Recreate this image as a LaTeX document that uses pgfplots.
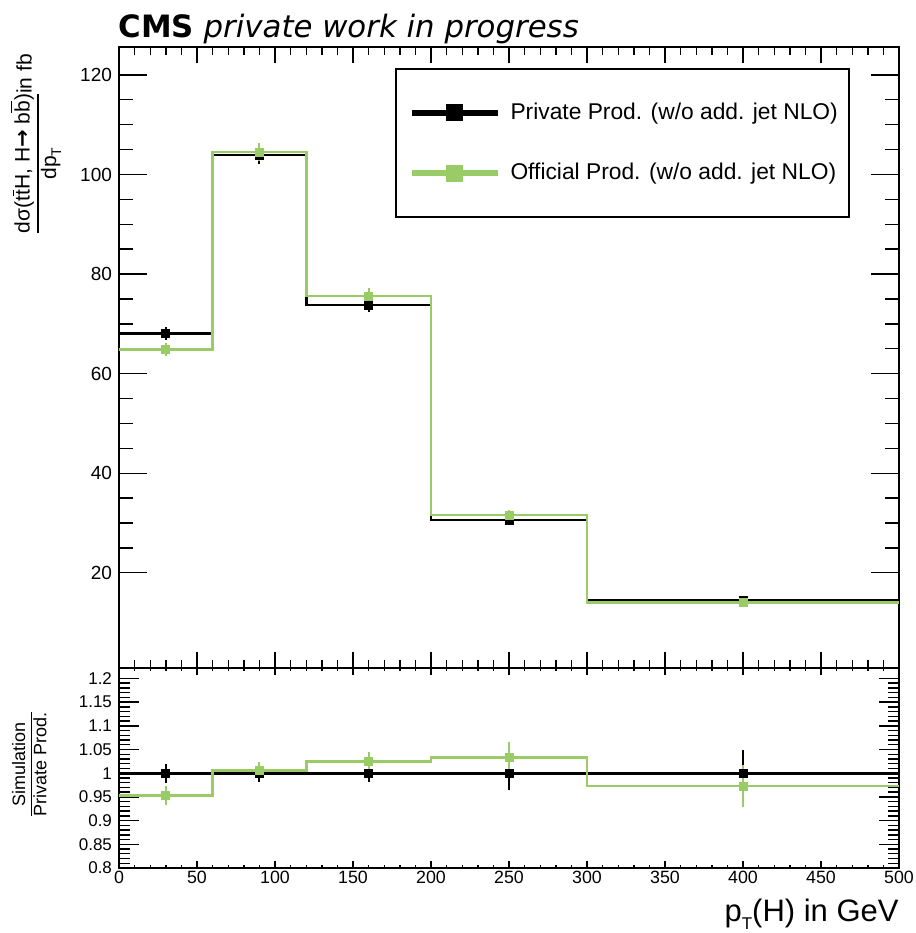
\documentclass[border=0pt]{standalone}
\usepackage{fontspec}
\setmainfont{Liberation Sans}
\newfontfamily\titlefont{DejaVu Sans}[BoldFont={DejaVu Sans Bold},ItalicFont={DejaVu Sans Oblique}]
\usepackage{pgfplots}
\pgfplotsset{compat=1.18}
\definecolor{offgreen}{RGB}{153,204,102}
\setlength{\arrayrulewidth}{0.7pt}

\pgfplotsset{
  common/.style={scale only axis, width=390pt, xmin=0, xmax=500,
    tick align=inside, axis line style={line width=1pt},
    every tick/.style={black, line width=0.7pt},
    xtick pos=both, ytick pos=both,
    /pgf/number format/assume math mode=true,
    anchor=south west},
  errs/.style={only marks, mark=square*, mark size=2pt,
    error bars/y dir=both, error bars/y explicit, error bars/error mark=none,
    error bars/error bar style={line width=1pt}},
}

\begin{document}
\begin{tikzpicture}
\useasboundingbox (0,0) rectangle (458pt,466.5pt);

% ---------- upper panel: x-tick frame ----------
\begin{axis}[common, at={(59.5pt,132.4pt)}, height=310.5pt,
  ymin=0.84, ymax=125.56, ytick=\empty,
  xtick={0,50,...,500}, minor x tick num=4, xticklabels={},
  major tick length=8pt, minor tick length=4pt]
\end{axis}

% ---------- upper panel: data ----------
\begin{axis}[common, at={(59.5pt,132.4pt)}, height=310.5pt,
  ymin=0.84, ymax=125.56, xtick=\empty,
  ytick={20,40,60,80,100,120}, minor y tick num=3,
  major tick length=14pt, minor tick length=7pt,
  yticklabel style={font=\fontsize{9.5}{11}\selectfont},
  title={\textbf{CMS} \textit{private work in progress}},
  title style={at={(axis description cs:0,1)}, anchor=base west, yshift=-1pt, xshift=-0.5pt, inner sep=0pt, font=\titlefont\fontsize{15.4}{18}\selectfont},
  ylabel={\begin{tabular}[t]{@{}c@{}}dσ(t$\overline{\hbox{t}}$H, H{\titlefont\bfseries →} b$\overline{\hbox{b}}$)\\\hline dp\raisebox{-2.5pt}{\fontsize{7}{8}\selectfont T}\end{tabular}\raisebox{-1pt}{\fontsize{10.5}{11}\selectfont in fb}},
  ylabel style={at={(axis description cs:-0.1051,1)}, anchor=east, font=\fontsize{10.5}{12.6}\selectfont},
  legend style={at={(axis description cs:0.937,0.9667)}, anchor=north east,
    draw=black, line width=1pt, fill=white, inner xsep=3.5pt, inner ysep=15pt,
    row sep=16.5pt, font=\fontsize{11.4}{13.7}\selectfont},
  legend cell align=left,
  legend image code/.code={
    \path (0pt,0pt) (51pt,0pt);
    \draw[#1, line width=3pt] (4pt,0pt) -- (47pt,0pt);
    \draw[#1, mark=square*, mark size=3.8pt, mark options={solid}] plot coordinates {(25.5pt,0pt)};
  }]
\addlegendimage{color=black}
\addlegendentry{Private Prod. (w/o add. jet NLO)}
\addlegendimage{color=offgreen}
\addlegendentry{Official Prod. (w/o add. jet NLO)}

\addplot[const plot, black, line width=1.4pt, forget plot] coordinates
  {(0,68.1) (60,103.9) (120,73.8) (200,30.6) (300,14.5) (500,14.5)};
\addplot[black, errs, forget plot] coordinates
  {(30,68.1) +- (0,1.36) (90,103.9) +- (0,1.87) (160,73.8) +- (0,1.40) (250,30.6) +- (0,1.07) (400,14.5) +- (0,0.70)};
\addplot[const plot, offgreen, line width=1.4pt, forget plot] coordinates
  {(0,64.9) (60,104.5) (120,75.6) (200,31.6) (300,14.1) (500,14.1)};
\addplot[offgreen, errs, forget plot] coordinates
  {(30,64.9) +- (0,1.30) (90,104.5) +- (0,1.78) (160,75.6) +- (0,1.59) (250,31.6) +- (0,1.04) (400,14.1) +- (0,0.63)};
\end{axis}

% ---------- lower panel: x-tick frame ----------
\begin{axis}[common, at={(59.5pt,32.5pt)}, height=100pt,
  ymin=0.8, ymax=1.222, ytick=\empty,
  xtick={0,50,...,500}, minor x tick num=4,
  xticklabel style={font=\fontsize{8.9}{10}\selectfont, inner sep=1.5pt},
  major tick length=3.4pt, minor tick length=1.7pt,
  xlabel={p\raisebox{-4.2pt}{\fontsize{8.5}{9}\selectfont T}(H) in GeV},
  xlabel style={at={(axis description cs:1,0)}, anchor=base east, yshift=-26.75pt, inner sep=0pt, font=\fontsize{15.5}{18}\selectfont}]
\end{axis}

% ---------- lower panel: data ----------
\begin{axis}[common, at={(59.5pt,32.5pt)}, height=100pt,
  ymin=0.8, ymax=1.222, xtick=\empty,
  ytick={0.8,0.85,0.9,0.95,1,1.05,1.1,1.15,1.2},
  yticklabels={0.8,0.85,0.9,0.95,1,1.05,1.1,1.15,1.2},
  minor y tick num=4,
  major tick length=10pt, minor tick length=5.5pt,
  yticklabel style={font=\fontsize{8.5}{9.5}\selectfont},
  ylabel={\begin{tabular}{@{}c@{}}Simulation\\\hline Private Prod.\end{tabular}},
  ylabel style={at={(axis description cs:-0.1118,0.52)}, anchor=center, font=\fontsize{9}{10}\selectfont}]
\addplot[const plot, black, line width=1.4pt] coordinates
  {(0,1) (60,1) (120,1) (200,1) (300,1) (500,1)};
\addplot[black, errs] coordinates
  {(30,1) +- (0,0.020) (90,1) +- (0,0.018) (160,1) +- (0,0.019) (250,1) +- (0,0.035) (400,1) +- (0,0.048)};
\addplot[const plot, offgreen, line width=1.4pt] coordinates
  {(0,0.953) (60,1.006) (120,1.024) (200,1.033) (300,0.973) (500,0.973)};
\addplot[offgreen, errs] coordinates
  {(30,0.953) +- (0,0.020) (90,1.006) +- (0,0.017) (160,1.024) +- (0,0.021) (250,1.033) +- (0,0.033) (400,0.973) +- (0,0.045)};
\end{axis}
\end{tikzpicture}
\end{document}
